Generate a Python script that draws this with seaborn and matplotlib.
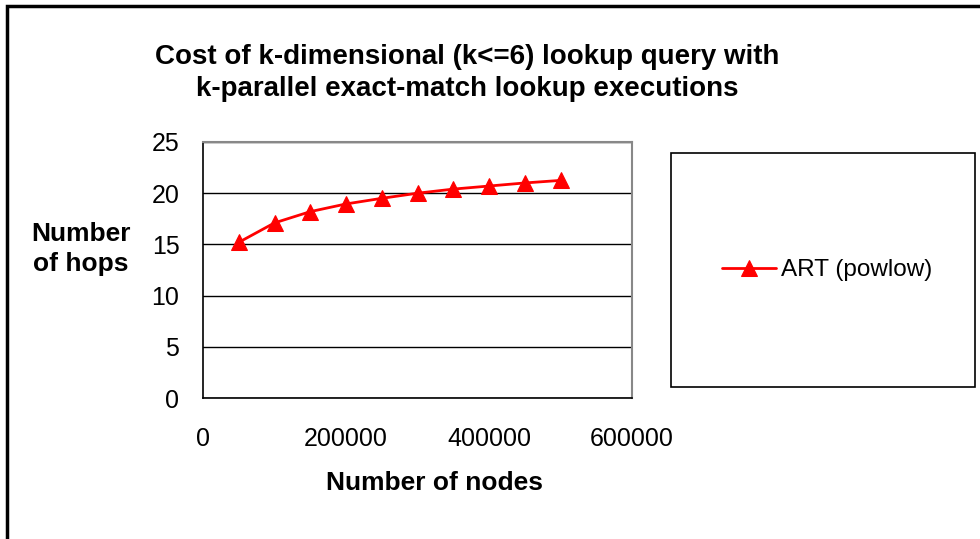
import seaborn as sns
import matplotlib.pyplot as plt
import pandas as pd
from matplotlib.patches import Rectangle

nodes = [50000, 100000, 150000, 200000, 250000, 300000, 350000, 400000, 450000, 500000]
hops = [15.2, 17.1, 18.2, 18.95, 19.5, 20.0, 20.4, 20.7, 21.0, 21.25]
series = "ART (powlow)"

sns.set_style("white")
plt.rcParams['font.family'] = ['Liberation Sans', 'DejaVu Sans']
plt.rcParams['text.color'] = 'black'
plt.rcParams['xtick.color'] = 'black'
plt.rcParams['ytick.color'] = 'black'

df = pd.DataFrame({"nodes": nodes, "hops": hops, "series": series})

fig = plt.figure(figsize=(9.8, 5.39), dpi=100)
ax = fig.add_axes([203 / 980, 1 - 398 / 539, (632 - 203) / 980, (398 - 142) / 539])

sns.lineplot(data=df, x="nodes", y="hops", hue="series", palette=["#ff0000"],
             marker="^", markersize=11, markeredgecolor="#ff0000", linewidth=2,
             ax=ax, legend=True)

ax.set_xlim(0, 600000)
ax.set_ylim(0, 25)
ax.set_xticks([0, 200000, 400000, 600000])
ax.set_xticklabels(["0", "200000", "400000", "600000"])
ax.set_yticks([0, 5, 10, 15, 20, 25])
ax.tick_params(axis="both", labelsize=18, length=6, width=1, direction="out")
ax.tick_params(axis="x", pad=15)
ax.tick_params(axis="y", pad=11)
ax.yaxis.grid(True, color="black", linewidth=1)
ax.set_axisbelow(True)
for s in ["left", "bottom"]:
    ax.spines[s].set_color("black")
    ax.spines[s].set_linewidth(1.2)
for s in ["top", "right"]:
    ax.spines[s].set_color("#888888")
    ax.spines[s].set_linewidth(1.5)

ax.set_xlabel("")
ax.set_ylabel("")
fig.text(434 / 980, 1 - 483 / 539, "Number of nodes", ha="center", va="center",
         fontsize=19, fontweight="bold")
fig.text(81 / 980, 1 - 249 / 539, "Number\nof hops", ha="center", va="center",
         fontsize=19, fontweight="bold", linespacing=1.35)
fig.text(467 / 980, 1 - 73 / 539,
         "Cost of k-dimensional (k<=6) lookup query with\nk-parallel exact-match lookup executions",
         ha="center", va="center", fontsize=20, fontweight="bold", linespacing=1.3)

# legend box
fig.patches.append(Rectangle((671 / 980, 1 - 387 / 539), (975 - 671) / 980, (387 - 153) / 539,
                             transform=fig.transFigure, fill=False, edgecolor="black",
                             linewidth=1.2))
handles, labels = ax.get_legend_handles_labels()
ax.legend_.remove()
fig.legend(handles, labels, loc="center", bbox_to_anchor=(827 / 980, 1 - 270 / 539),
           frameon=False, fontsize=17.5, handlelength=2.2, handletextpad=0.2)

# outer chart border
fig.patches.append(Rectangle((7 / 980, -0.1), 1.1, 1 - 6 / 539 + 0.1,
                             transform=fig.transFigure, fill=False, edgecolor="black",
                             linewidth=2.5))

fig.savefig("out.png", dpi=100)
